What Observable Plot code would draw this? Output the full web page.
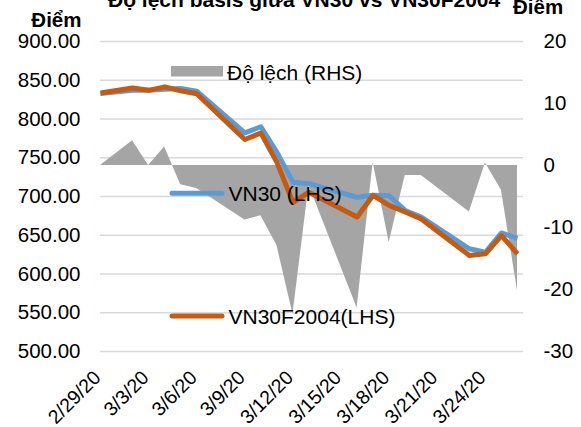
<!DOCTYPE html>
<html>
<head>
<meta charset="utf-8">
<script src="https://cdn.jsdelivr.net/npm/d3@7"></script>
<script src="https://cdn.jsdelivr.net/npm/@observablehq/plot@0.6"></script>
<style>
  html, body { margin: 0; padding: 0; background: #fff; }
  #chart { position: relative; width: 581px; height: 427px; overflow: hidden; }
  svg { font-family: "Liberation Sans", Arial, sans-serif; }
</style>
</head>
<body>
<div id="chart"></div>
<script>
// ---- data ----
const dates = ["2020-02-29","2020-03-02","2020-03-03","2020-03-04","2020-03-05","2020-03-06",
  "2020-03-09","2020-03-10","2020-03-11","2020-03-12","2020-03-13","2020-03-16","2020-03-17",
  "2020-03-18","2020-03-19","2020-03-20","2020-03-23","2020-03-24","2020-03-25","2020-03-26"];
const vn30 = [833, 837, 837, 838.5, 839.5, 836, 782, 790, 757, 718.5, 716.5, 699, 701.5, 701, 682, 673.5, 632.5, 628, 653, 646];
const vn30f = [833.5, 840, 837, 841.5, 836.5, 832.5, 773.5, 782, 744, 692.5, 705.5, 673.5, 701.5, 688.5, 680, 671, 624, 626, 649.5, 626];
const deviation = [0, 4, 0, 3, -3.1, -3.7, -8.8, -8.1, -12.9, -24, -3.2, -23, 0.5, -12.4, -1.6, -1.6, -7.5, 0.4, -4, -20.2];

const leftTicks = [500, 550, 600, 650, 700, 750, 800, 850, 900];
const rightTicks = [-30, -20, -10, 0, 10, 20];
const xTickDates = ["2020-02-29","2020-03-03","2020-03-06","2020-03-09","2020-03-12","2020-03-15","2020-03-18","2020-03-21","2020-03-24"];
const xTickLabels = ["2/29/20","3/3/20","3/6/20","3/9/20","3/12/20","3/15/20","3/18/20","3/21/20","3/24/20"];

const titleText = "Độ lệch basis giữa VN30 vs VN30F2004";
const unitLeft = "Điểm", unitRight = "Điểm";
const legendNames = ["Độ lệch (RHS)", "VN30 (LHS)", "VN30F2004(LHS)"];

// right axis (-30..20) mapped onto left axis (500..900)
const rightToLeft = d => 740 + 8 * d;

const rows = dates.map((d, i) => ({date: new Date(d), vn30: vn30[i], vn30f: vn30f[i], dev: deviation[i]}));
const xTicks = xTickDates.map((d, i) => ({date: new Date(d), label: xTickLabels[i]}));

const FS = 20.5;
const plot = Plot.plot({
  width: 581,
  height: 427,
  marginLeft: 100,
  marginRight: 58,
  marginTop: 41,
  marginBottom: 76,
  style: {fontFamily: '"Liberation Sans", Arial, sans-serif', background: "#fff", color: "#000"},
  x: {type: "utc", domain: [new Date(dates[0]), new Date(dates[dates.length - 1])], range: [100, 517], axis: null},
  y: {domain: [500, 900], axis: null},
  marks: [
    Plot.ruleY(leftTicks, {stroke: "#D9D9D9", strokeWidth: 1.3}),
    Plot.areaY(rows, {x: "date", y1: 740, y2: d => rightToLeft(d.dev), fill: "#A5A5A5"}),
    Plot.line(rows, {x: "date", y: "vn30", stroke: "#5B9BD5", strokeWidth: 5, strokeLinejoin: "round", strokeLinecap: "butt"}),
    Plot.line(rows, {x: "date", y: "vn30f", stroke: "#C55A11", strokeWidth: 5, strokeLinejoin: "round", strokeLinecap: "butt"}),
    Plot.text(leftTicks, {y: d => d, text: d => d.toFixed(2), frameAnchor: "left", dx: -20, textAnchor: "end", lineAnchor: "middle", fontSize: FS, fill: "#000"}),
    Plot.text(rightTicks, {y: d => rightToLeft(d), text: d => String(d), frameAnchor: "right", dx: 20, textAnchor: "start", lineAnchor: "middle", fontSize: FS, fill: "#000"}),
    Plot.text(xTicks, {x: "date", text: "label", frameAnchor: "bottom", rotate: -45, textAnchor: "end", lineAnchor: "middle", dx: -3, dy: 23, fontSize: 19.5, fill: "#000"})
  ]
});
document.getElementById("chart").appendChild(plot);

// titles, units and in-plot legend
const svg = d3.select(plot);
const ff = '"Liberation Sans", Arial, sans-serif';
svg.append("text").attr("x", 108).attr("y", 6.5).attr("text-anchor", "start").attr("font-size", 21).attr("font-weight", "bold")
  .attr("font-family", ff).attr("fill", "#000").text(titleText);
svg.append("text").attr("x", 81.5).attr("y", 26.5).attr("text-anchor", "end").attr("font-size", 20.5)
  .attr("font-weight", "bold").attr("font-family", ff).attr("fill", "#000").text(unitLeft);
svg.append("rect").attr("x", 506).attr("y", -5).attr("width", 70).attr("height", 21).attr("fill", "#fff");
svg.append("text").attr("x", 513).attr("y", 14).attr("text-anchor", "start").attr("font-size", 20.5)
  .attr("font-weight", "bold").attr("font-family", ff).attr("fill", "#000").text(unitRight);

const lg = svg.append("g").attr("font-family", ff).attr("font-size", 21).attr("fill", "#000").attr("text-anchor", "start");
lg.append("rect").attr("x", 171).attr("y", 66).attr("width", 52).attr("height", 10.5).attr("fill", "#A5A5A5");
lg.append("text").attr("x", 227).attr("y", 79.5).text(legendNames[0]);
lg.append("line").attr("x1", 172).attr("x2", 222).attr("y1", 193.3).attr("y2", 193.3)
  .attr("stroke", "#5B9BD5").attr("stroke-width", 5).attr("stroke-linecap", "round");
lg.append("text").attr("x", 228.5).attr("y", 200.8).text(legendNames[1]);
lg.append("line").attr("x1", 172).attr("x2", 222).attr("y1", 316).attr("y2", 316)
  .attr("stroke", "#C55A11").attr("stroke-width", 5).attr("stroke-linecap", "round");
lg.append("text").attr("x", 228.5).attr("y", 323.5).text(legendNames[2]);
</script>
</body>
</html>
